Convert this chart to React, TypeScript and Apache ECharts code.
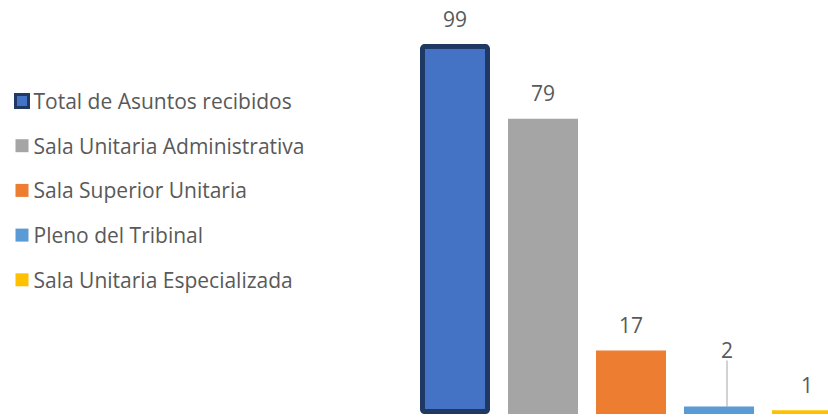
import React, { useEffect, useRef } from "react";
import * as echarts from "echarts";

const categories = ["c1", "c2", "c3", "c4", "c5"];
const seriesNames = [
  "Total de Asuntos recibidos",
  "Sala Unitaria Administrativa",
  "Sala Superior Unitaria",
  "Pleno del Tribinal",
  "Sala Unitaria Especializada",
];
const values = [99, 79, 17, 2, 1];
const colors = ["#4472C4", "#A5A5A5", "#ED7D31", "#5B9BD5", "#FFC000"];

export default function App() {
  const ref = useRef<HTMLDivElement>(null);
  useEffect(() => {
    if (!ref.current) return;
    const chart = echarts.init(ref.current, null, { renderer: "svg" });
    const series = seriesNames.map((name, i) => {
      const data = categories.map((_, j) => (j === i ? values[i] : null));
      const s: any = {
        name,
        type: "bar",
        stack: "all",
        barWidth: 70,
        data,
        itemStyle: {
          color: colors[i],
          ...(i === 0 ? { borderColor: "#203864", borderWidth: 5, borderRadius: 2 } : {}),
        },
        label: {
          show: true,
          position: "top",
          distance: 15,
          color: "#595959",
          fontSize: 21,
          fontFamily: "Open Sans",
        },
      };
      if (i === 3) {
        s.labelLayout = { dx: 8, dy: -31 };
        s.labelLine = { show: true, lineStyle: { color: "#A6A6A6", width: 1 } };
      }
      return s;
    });
    chart.setOption({
      animation: false,
      backgroundColor: "#ffffff",
      legend: {
        orient: "vertical",
        left: 14,
        top: 90.5,
        padding: 0,
        itemWidth: 13,
        itemHeight: 13,
        itemGap: 23.7,
        icon: "rect",
        textStyle: { color: "#595959", fontSize: 21, fontFamily: "Open Sans", lineHeight: 21 },
        data: seriesNames.map((n, i) =>
          i === 0 ? { name: n, itemStyle: { borderWidth: 3, borderColor: "#203864" } } : { name: n }
        ),
      },
      grid: { left: 411, right: 9, top: 3, bottom: 4 },
      xAxis: {
        type: "category",
        data: categories,
        show: false,
      },
      yAxis: { type: "value", min: 0, max: 110, show: false },
      series,
    });
    return () => chart.dispose();
  }, []);
  return (
    <div
      style={{ position: "absolute", left: 0, top: 0, width: 828, height: 418, overflow: "hidden" }}
    >
      <div ref={ref} style={{ width: 860, height: 418 }} />
    </div>
  );
}
